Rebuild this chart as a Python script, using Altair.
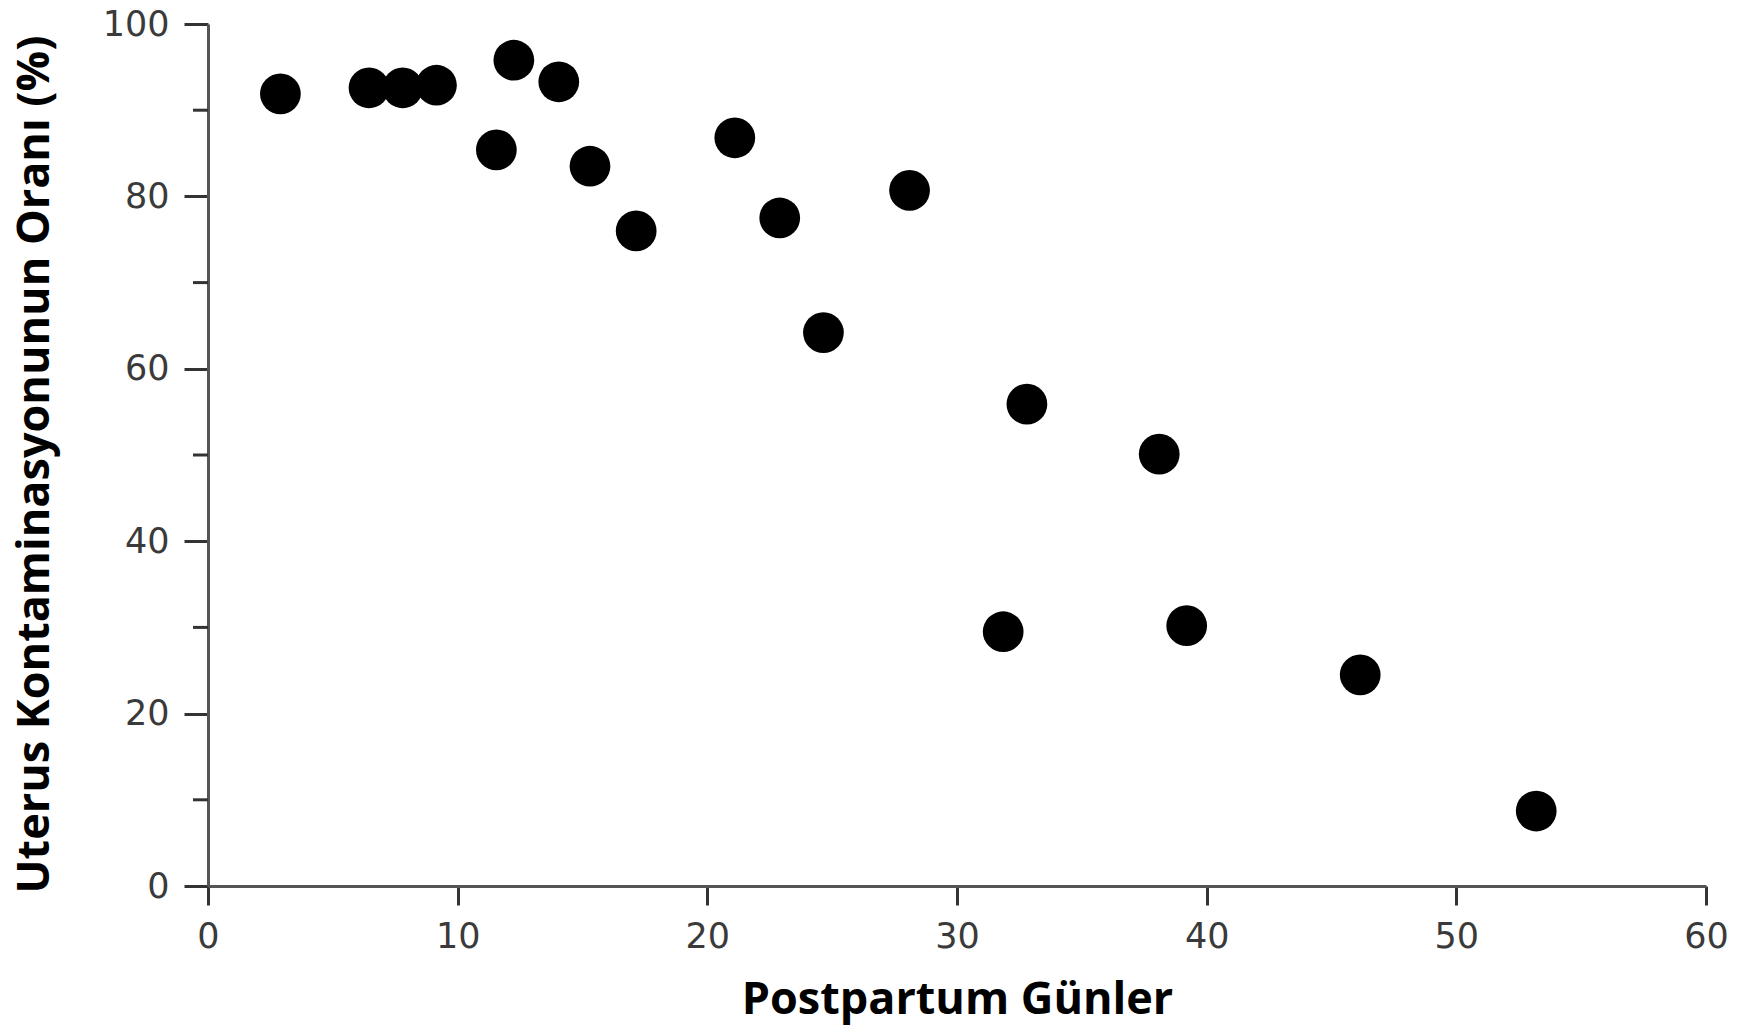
import altair as alt
import pandas as pd

# Data
days = [2.9, 6.45, 7.8, 9.15, 12.25, 14.05, 11.55, 15.3, 17.15, 21.1, 22.9, 28.1,
        24.65, 32.8, 38.1, 31.85, 39.2, 46.15, 53.2]
contamination = [91.9, 92.6, 92.6, 92.9, 95.8, 93.3, 85.4, 83.5, 76.0, 86.8, 77.5, 80.7,
                 64.2, 55.9, 50.1, 29.5, 30.2, 24.5, 8.7]
x_ticks = [0, 10, 20, 30, 40, 50, 60]
y_ticks = [0, 20, 40, 60, 80, 100]
y_minor = [10, 30, 50, 70, 90]

df = pd.DataFrame({"day": days, "rate": contamination})
minor_df = pd.DataFrame({"m": y_minor})

label_font = "DejaVu Sans"
title_font = "Open Sans"

x_scale = alt.Scale(domain=[0, 60], nice=False, zero=False)
y_scale = alt.Scale(domain=[0, 100], nice=False, zero=False)

points = alt.Chart(df).mark_circle(size=1660, color="black", opacity=1).encode(
    x=alt.X("day:Q", scale=x_scale,
            axis=alt.Axis(values=x_ticks, title="Postpartum Günler", grid=False,
                          domainColor="#555555", domainWidth=3,
                          tickColor="#333333", tickWidth=3, tickSize=19,
                          labelFont=label_font, labelFontSize=35, labelColor="#3a3a3a",
                          labelPadding=14, labelFlush=False,
                          titleFont=title_font, titleFontSize=45, titleFontWeight="bold",
                          titleColor="black", titleBaseline="alphabetic", titleY=127,
                          titleAlign="center")),
    y=alt.Y("rate:Q", scale=y_scale,
            axis=alt.Axis(values=y_ticks, title="Uterus Kontaminasyonunun Oranı (%)", grid=False,
                          domainColor="#555555", domainWidth=3,
                          tickColor="#333333", tickWidth=3, tickSize=24,
                          labelFont=label_font, labelFontSize=35, labelColor="#3a3a3a",
                          labelPadding=15, labelFlush=False,
                          titleFont=title_font, titleFontSize=45, titleFontWeight="bold",
                          titleColor="black", titleBaseline="alphabetic", titleAngle=270,
                          titleX=-160, titleY=440, titleAlign="center")),
)

minor = alt.Chart(minor_df).mark_rule(color="#333333", strokeWidth=3).encode(
    y=alt.Y("m:Q", scale=y_scale),
    x=alt.value(-15),
    x2=alt.value(0),
)

chart = alt.layer(minor, points).properties(
    width=1498,
    height=862,
    autosize=alt.AutoSizeParams(type="none"),
    padding={"left": 200, "top": 16, "right": 30, "bottom": 140},
).configure(background="white", view=alt.ViewConfig(stroke=None))

chart.save("out.html", embed_options={"renderer": "svg", "actions": False})
